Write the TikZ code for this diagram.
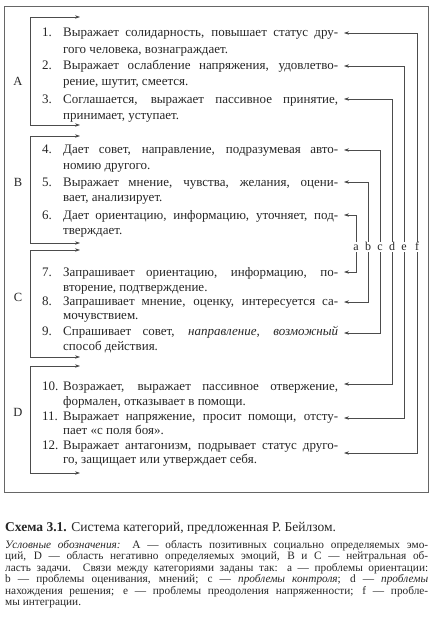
\documentclass[tikz,border=0pt]{standalone}
\usepackage{fontspec}
\setmainfont{Liberation Serif}
\usetikzlibrary{arrows.meta}
\newcommand{\jline}[2][275pt]{\makebox[#1][s]{#2}}

\begin{document}
\begin{tikzpicture}[x=1pt,y=-1pt,
                       every node/.style={text=black!85},
                       item/.style={anchor=base west,inner sep=0pt,
                                    font=\fontsize{13}{15}\selectfont},
                       group/.style={inner sep=0pt,font=\fontsize{12.5}{14}\selectfont},
                       letter/.style={inner sep=1.5pt,text height=7pt,text depth=0pt,
                                      font=\fontsize{12}{14}\selectfont},
                       legend/.style={anchor=base west,inner sep=0pt,
                                      font=\fontsize{11.3}{13}\selectfont},
                       link/.style={draw=black!70,line width=0.6pt,
                                    -{Stealth[length=5pt,width=3.4pt]}},
                       bracket/.style={draw=black!70,line width=0.6pt,
                                    {Stealth[length=5pt,width=3.4pt]}-{Stealth[length=5pt,width=3.4pt]}}
                      ]
   \useasboundingbox (0,0) rectangle (432,618);
   \draw[draw=black!60,line width=0.6pt] (4,6) rectangle (428,492);

   % groups on the left
   \node[group] (A) at (18,81) {A};
   \node[group] (B) at (18,182) {B};
   \node[group] (C) at (18,297) {C};
   \node[group] (D) at (18,412) {D};
   \coordinate (A1) at (80,17);  \coordinate (A2) at (80,125);
   \coordinate (B1) at (80,136); \coordinate (B2) at (80,243);
   \coordinate (C1) at (80,250); \coordinate (C2) at (80,357);
   \coordinate (D1) at (80,366); \coordinate (D2) at (80,473);
   \draw[bracket] (A1) -- ++(-50,0) |- (A2);
   \draw[bracket] (B1) -- ++(-50,0) |- (B2);
   \draw[bracket] (C1) -- ++(-50,0) |- (C2);
   \draw[bracket] (D1) -- ++(-50,0) |- (D2);

   % categories
   \node[item] (num1) at (42,37) {1.};
   \node[item] (top1) at (63,37) {\jline{Выражает солидарность, повышает статус дру-}};
   \node[item] (bot1) at (63,53) {гого человека, вознаграждает.};
   \node[item] (num2) at (42,70) {2.};
   \node[item] (top2) at (63,70) {\jline{Выражает ослабление напряжения, удовлетво-}};
   \node[item] (bot2) at (63,85) {рение, шутит, смеется.};
   \node[item] (num3) at (42,103) {3.};
   \node[item] (top3) at (63,103) {\jline{Соглашается, выражает пассивное принятие,}};
   \node[item] (bot3) at (63,119) {принимает, уступает.};
   \node[item] (num4) at (42,153) {4.};
   \node[item] (top4) at (63,153) {\jline{Дает совет, направление, подразумевая авто-}};
   \node[item] (bot4) at (63,169) {номию другого.};
   \node[item] (num5) at (42,186) {5.};
   \node[item] (top5) at (63,186) {\jline{Выражает мнение, чувства, желания, оцени-}};
   \node[item] (bot5) at (63,201) {вает, анализирует.};
   \node[item] (num6) at (42,219) {6.};
   \node[item] (top6) at (63,219) {\jline{Дает ориентацию, информацию, уточняет, под-}};
   \node[item] (bot6) at (63,234) {тверждает.};
   \node[item] (num7) at (42,276) {7.};
   \node[item] (top7) at (63,276) {\jline{Запрашивает ориентацию, информацию, по-}};
   \node[item] (bot7) at (63,291) {вторение, подтверждение.};
   \node[item] (num8) at (42,305) {8.};
   \node[item] (top8) at (63,305) {\jline{Запрашивает мнение, оценку, интересуется са-}};
   \node[item] (bot8) at (63,319) {мочувствием.};
   \node[item] (num9) at (42,335) {9.};
   \node[item] (top9) at (63,335) {\jline{Спрашивает совет, \textit{направление, возможный}}};
   \node[item] (bot9) at (63,350) {способ действия.};
   \node[item] (num10) at (42,390) {10.};
   \node[item] (top10) at (63,390) {\jline{Возражает, выражает пассивное отвержение,}};
   \node[item] (bot10) at (63,405) {формален, отказывает в помощи.};
   \node[item] (num11) at (42,420) {11.};
   \node[item] (top11) at (63,420) {\jline{Выражает напряжение, просит помощи, отсту-}};
   \node[item] (bot11) at (63,434) {пает «с поля боя».};
   \node[item] (num12) at (42,449) {12.};
   \node[item] (top12) at (63,449) {\jline{Выражает антагонизм, подрывает статус друго-}};
   \node[item] (bot12) at (63,463) {го, защищает или утверждает себя.};

   % links on the right
   \node[letter] (a) at (356,247) {a};
   \node[letter] (b) at (368,247) {b};
   \node[letter] (c) at (380,247) {c};
   \node[letter] (d) at (392,247) {d};
   \node[letter] (e) at (404,247) {e};
   \node[letter] (f) at (417,247) {f};
   \coordinate (t1) at (344,33);   \coordinate (t2) at (344,66);
   \coordinate (t3) at (344,99);   \coordinate (t4) at (344,150);
   \coordinate (t5) at (344,182);  \coordinate (t6) at (344,215);
   \coordinate (t7) at (344,272);  \coordinate (t8) at (344,302);
   \coordinate (t9) at (344,333);  \coordinate (t10) at (344,384);
   \coordinate (t11) at (344,418); \coordinate (t12) at (344,453);
   \draw[link] (a.north) |- (t6);
   \draw[link] (a.south) |- (t7);
   \draw[link] (b.north) |- (t5);
   \draw[link] (b.south) |- (t8);
   \draw[link] (c.north) |- (t4);
   \draw[link] (c.south) |- (t9);
   \draw[link] (d.north) |- (t3);
   \draw[link] (d.south) |- (t10);
   \draw[link] (e.north) |- (t2);
   \draw[link] (e.south) |- (t11);
   \draw[link] (f.north) |- (t1);
   \draw[link] (f.south) |- (t12);

   % caption and legend
   \node[anchor=base west,inner sep=0pt,font=\fontsize{13.5}{15}\selectfont] (cap) at (5,531)
     {\textbf{Схема 3.1.} Система категорий, предложенная Р. Бейлзом.};
   \node[legend] (leg1) at (5,548) {\jline[423pt]{\textit{Условные обозначения:} А — область позитивных социально определяемых эмо-}};
   \node[legend] (leg2) at (5,559.5) {\jline[423pt]{ций, D — область негативно определяемых эмоций, В и С — нейтральная об-}};
   \node[legend] (leg3) at (5,571) {\jline[423pt]{ласть задачи. Связи между категориями заданы так: a — проблемы ориентации:}};
   \node[legend] (leg4) at (5,582.5) {\jline[423pt]{b — проблемы оценивания, мнений; c — \textit{проблемы контроля}; d — \textit{проблемы}}};
   \node[legend] (leg5) at (5,594) {\jline[423pt]{нахождения решения; e — проблемы преодоления напряженности; f — пробле-}};
   \node[legend] (leg6) at (5,605.5) {мы интеграции.};
\end{tikzpicture}
\end{document}
